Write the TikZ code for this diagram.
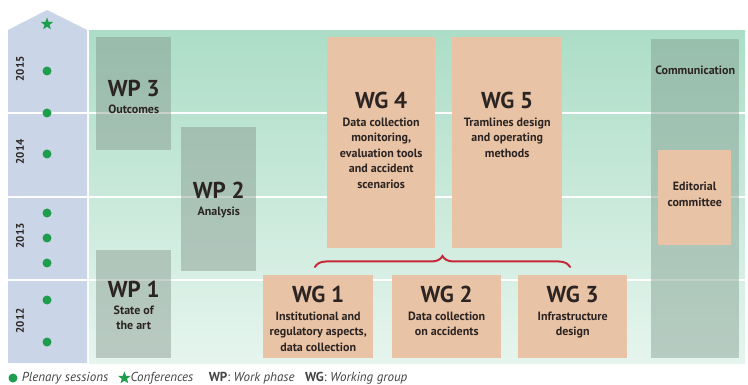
\documentclass[tikz,border=0pt]{standalone}
\usepackage{fontspec}
\setmainfont{PT Sans}
\usetikzlibrary{
    positioning,
    shapes.geometric,
    decorations.pathreplacing
}
\definecolor{tlblue}{HTML}{CBD5E8}
\definecolor{mintTop}{HTML}{ACDDC7}
\definecolor{mintBottom}{HTML}{E6F5EE}
\definecolor{wpgray}{HTML}{7E8F86}
\definecolor{commgray}{HTML}{7E9A8C}
\definecolor{wgpeach}{HTML}{E9C3A5}
\definecolor{dotgreen}{HTML}{1E9E4C}
\definecolor{bracered}{HTML}{C62839}
\definecolor{inkdark}{HTML}{2B2422}
\definecolor{keygray}{HTML}{444444}

\newcommand{\bigtitle}[1]{{\fontsize{23}{23}\selectfont #1}}

\begin{document}
\begin{tikzpicture}[
    x=1pt, y=-1pt,
    every node/.style={text=inkdark},
    wpbox/.style={
        rectangle,
        anchor=north west,
        inner sep=0pt,
        fill=wpgray,
        fill opacity=0.42
    },
    commbox/.style={
        rectangle,
        anchor=north west,
        inner sep=0pt,
        fill=commgray,
        fill opacity=0.45
    },
    wgbox/.style={
        rectangle,
        anchor=north west,
        inner sep=0pt,
        fill=wgpeach
    },
    boxtext/.style={
        align=center,
        inner sep=0pt,
        font=\bfseries\fontsize{12}{15.5}\selectfont
    },
    plenary/.style={
        circle,
        fill=dotgreen,
        minimum size=9pt,
        inner sep=0pt
    },
    conf/.style={
        star,
        star points=5,
        star point ratio=2.4,
        fill=dotgreen,
        minimum size=13pt,
        inner sep=0pt
    },
    yearlabel/.style={
        rotate=90,
        inner sep=0pt,
        font=\bfseries\fontsize{11}{11}\selectfont
    },
    legendtext/.style={
        inner sep=0pt,
        text=keygray,
        font=\itshape\fontsize{13}{15}\selectfont
    },
    curly/.style={
        draw=bracered,
        line width=2pt,
        line cap=round,
        decorate,
        decoration={brace, amplitude=11pt}
    }
]
\useasboundingbox (0,0) rectangle (748,385);

% =====================================================
% Time line and background
% =====================================================

\fill[tlblue] (8,30) -- (47,10) -- (87,30) -- (87,363) -- (8,363) -- cycle;
\shade[top color=mintTop, bottom color=mintBottom] (89,31) rectangle (745,363);

\foreach \y in {113,197,280}
    \draw[white, line width=1.6pt] (8,\y) -- (745,\y);

\foreach \yr/\y in {2015/69,2014/152,2013/236,2012/321}
    \node[yearlabel] (year\yr) at (20,\y) {\yr};

\node[conf] (conf1) at (47,24) {};
\foreach \y [count=\i] in {71,113,154,213,238,263,300,342}
    \node[plenary] (plen\i) at (47,\y) {};

% =====================================================
% Work phases
% =====================================================

\node[wpbox, minimum width=75pt, minimum height=113pt] (wp3) at (96,37) {};
\node[wpbox, minimum width=75pt, minimum height=144pt] (wp2) at (181,127) {};
\node[wpbox, minimum width=75pt, minimum height=108pt] (wp1) at (96,250) {};
\node[commbox, minimum width=88pt, minimum height=319pt] (comm) at (651,39) {};

\node[boxtext, below=43pt of wp3.north] (wp3txt)
{\bigtitle{WP 3}\\[1pt] Outcomes};

\node[boxtext, below=55pt of wp2.north] (wp2txt)
{\bigtitle{WP 2}\\[1pt] Analysis};

\node[boxtext, below=31pt of wp1.north] (wp1txt)
{\bigtitle{WP 1}\\[1pt] State of\\the art};

\node[boxtext, below=27pt of comm.north] (commtxt)
{Communication};

% =====================================================
% Working groups
% =====================================================

\node[wgbox, minimum width=108pt, minimum height=211pt] (wg4) at (327,37) {};
\node[wgbox, minimum width=110pt, minimum height=211pt] (wg5) at (452,37) {};
\node[wgbox, minimum width=73pt, minimum height=95pt] (edit) at (658,150) {};
\node[wgbox, minimum width=110pt, minimum height=83pt] (wg1) at (263,275) {};
\node[wgbox, minimum width=109pt, minimum height=83pt] (wg2) at (392,275) {};
\node[wgbox, minimum width=109pt, minimum height=83pt] (wg3) at (518,275) {};

\node[boxtext, below=55pt of wg4.north] (wg4txt)
{\bigtitle{WG 4}\\[2pt] Data collection\\monitoring,\\evaluation tools\\and accident\\scenarios};

\node[boxtext, below=55pt of wg5.north] (wg5txt)
{\bigtitle{WG 5}\\[2pt] Tramlines design\\and operating\\methods};

\node[boxtext, below=32pt of edit.north] (edittxt)
{Editorial\\committee};

\node[boxtext, below=11pt of wg1.north] (wg1txt)
{\bigtitle{WG 1}\\[2pt] Institutional and\\regulatory aspects,\\data collection};

\node[boxtext, below=11pt of wg2.north] (wg2txt)
{\bigtitle{WG 2}\\[2pt] Data collection\\on accidents};

\node[boxtext, below=11pt of wg3.north] (wg3txt)
{\bigtitle{WG 3}\\[2pt] Infrastructure\\design};

% brace over WG 1-3
\coordinate (bracel) at (315,267);
\coordinate (bracer) at (570,267);
\draw[curly] (bracel) -- (bracer);

% =====================================================
% Key
% =====================================================

\node[plenary] (keydot) at (13,378) {};
\node[legendtext, right=4pt of keydot] (keyplen) {Plenary sessions};
\node[conf, right=12pt of keyplen] (keystar) {};
\node[legendtext, right=2pt of keystar] (keyconf) {Conferences};
\node[legendtext, right=15pt of keyconf] (keywp)
{{\upshape\bfseries WP}{\upshape:} Work phase};
\node[legendtext, right=10pt of keywp] (keywg)
{{\upshape\bfseries WG}{\upshape:} Working group};

\end{tikzpicture}
\end{document}
